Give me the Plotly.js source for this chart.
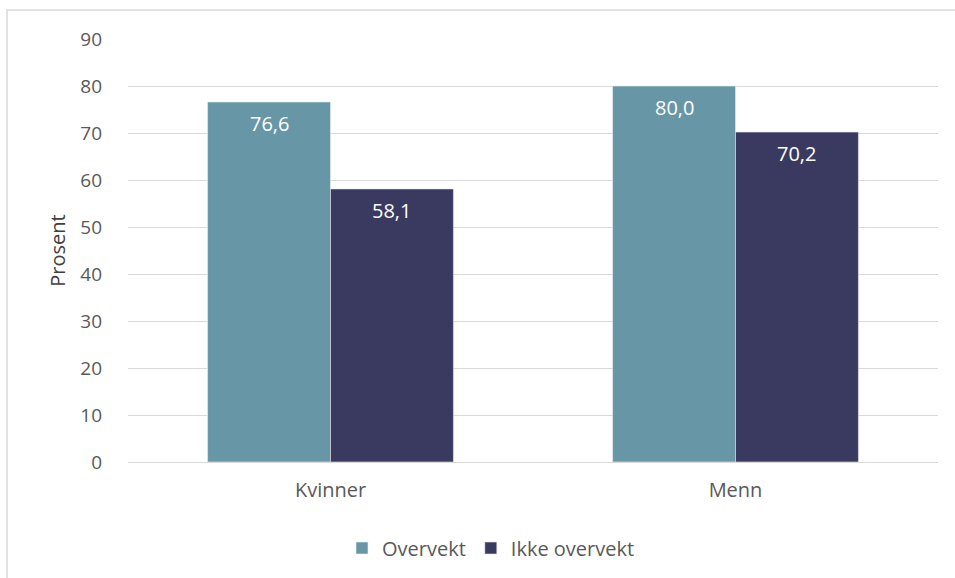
<!DOCTYPE html>
<html><head><meta charset="utf-8">
<script src="https://cdn.plot.ly/plotly-3.0.1.min.js"></script>
<style>html,body{margin:0;padding:0;background:#fff}#c{width:955px;height:578px}</style>
</head><body><div id="c"></div>
<script>
const categories = ["Kvinner", "Menn"];
const overvekt = [76.6, 80.0];
const ikkeOvervekt = [58.1, 70.2];
const yTicks = [0, 10, 20, 30, 40, 50, 60, 70, 80, 90];

const W = 955, H = 578, L = 128, R = 17, T = 39, B = 115;
const pw = W - L - R, ph = H - T - B;
const px = v => (v - L) / pw, py = v => (H - B - v) / ph;
const bargap = 0.393;
const barW = pw / categories.length * (1 - bargap) / 2;

const traces = [
  {type: "bar", name: "Overvekt", x: categories, y: overvekt,
   marker: {color: "#6797a7", line: {color: "#e6eef0", width: 0.6}}, hoverinfo: "none"},
  {type: "bar", name: "Ikke overvekt", x: categories, y: ikkeOvervekt,
   marker: {color: "#3a3a60", line: {color: "#e6e6ee", width: 0.6}}, hoverinfo: "none"}
];

const fmt = v => v.toFixed(1).replace(".", ",");
const annotations = [];
[overvekt, ikkeOvervekt].forEach((vals, s) => {
  vals.forEach((v, i) => {
    annotations.push({x: categories[i], y: v, xref: "x", yref: "y",
      text: fmt(v), showarrow: false, yanchor: "top", yshift: -6,
      xshift: (s === 0 ? -1 : 1) * barW / 2,
      font: {family: "Open Sans, sans-serif", size: 20, color: "#ffffff"}});
  });
});

const layout = {
  width: W, height: H, margin: {l: L, r: R, t: T, b: B, pad: 0},
  paper_bgcolor: "#ffffff", plot_bgcolor: "#ffffff",
  separators: ", ",
  font: {family: "Open Sans, sans-serif", color: "#595959", size: 20},
  barmode: "group", bargap: bargap, bargroupgap: 0,
  showlegend: true,
  legend: {orientation: "h", x: px(491), xanchor: "center", y: py(548), yanchor: "middle",
           font: {size: 20, color: "#595959"}, itemwidth: 30, traceorder: "normal"},
  xaxis: {type: "category", showgrid: false, zeroline: false, showline: false,
          ticks: "", ticklabelstandoff: 14, tickfont: {size: 20, color: "#595959"}},
  yaxis: {range: [0, 90], tickvals: yTicks, ticktext: yTicks.map(String),
          showgrid: true, gridcolor: "#d9d9d9", gridwidth: 1,
          zeroline: true, zerolinecolor: "#d9d9d9", zerolinewidth: 1,
          showline: false, ticks: "", ticklabelstandoff: 25,
          tickfont: {size: 19, color: "#595959"},
          title: {text: "Prosent", font: {size: 20, color: "#404040"}, standoff: 9}},
  annotations: annotations,
  shapes: [{type: "rect", xref: "paper", yref: "paper",
            x0: px(7), x1: px(960), y0: py(10), y1: py(590),
            line: {color: "#d9d9d9", width: 1.5}, fillcolor: "rgba(0,0,0,0)", layer: "below"}]
};
Plotly.newPlot("c", traces, layout, {displayModeBar: false, staticPlot: true});
</script></body></html>
